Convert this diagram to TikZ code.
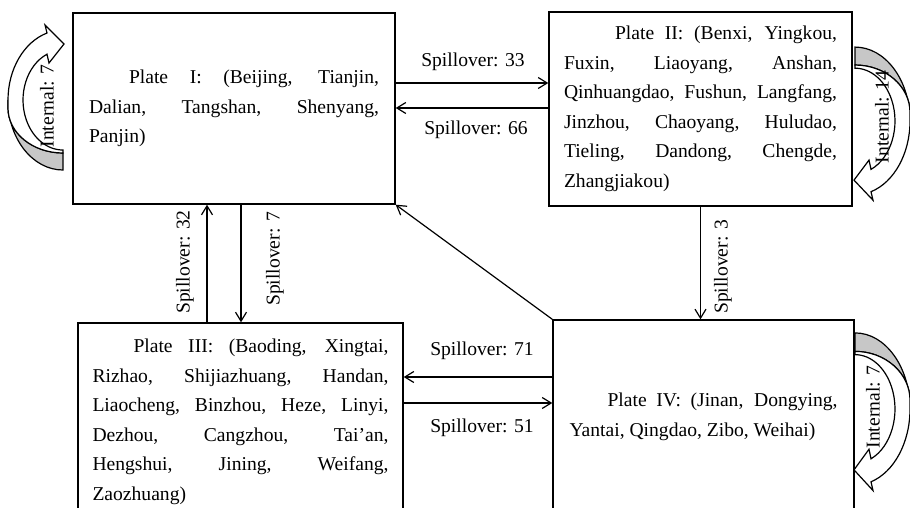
\documentclass[tikz,border=0pt]{standalone}
\usepackage{fontspec}
\setmainfont{Liberation Serif}
\usetikzlibrary{arrows.meta}
\tikzset{
  plate/.style={draw, line width=1.4pt, align=justify, font=\fontsize{19.6}{29.5}\selectfont, inner ysep=0pt},
  conn/.style={line width=1.2pt, -{Straight Barb[length=9pt,width=11pt,line width=1.2pt]}},
  lbl/.style={font=\fontsize{19.6}{24}\selectfont, inner sep=0pt},
  curvarr/.pic={
    \filldraw[fill=black!22, draw=black, line width=1.2pt]
      (0,70) arc[start angle=90,end angle=180,x radius=55,y radius=70]
      -- (-55,8) arc[start angle=180,end angle=90,x radius=55,y radius=45] -- cycle;
    \filldraw[fill=white, draw=black, line width=1.2pt]
      (0,53) arc[start angle=90,end angle=180,x radius=55,y radius=45]
      -- (-55,0) arc[start angle=180,end angle=253.1,x radius=55,y radius=70]
      -- (-18,-75) -- (1,-56) -- (-14,-37) -- (-16,-45.8)
      arc[start angle=246.4,end angle=90,x radius=40,y radius=50] -- cycle;
  }
}
\begin{document}
\begin{tikzpicture}[x=1pt,y=-1pt]
\useasboundingbox (0,0) rectangle (910,508);
\clip (0,0) rectangle (910,508);
\hyphenpenalty=10000 \exhyphenpenalty=10000

% curved internal arrows (drawn first)
\pic at (63,100) {curvarr};
\pic[rotate=180, yscale=1.056] at (855,121) {curvarr};
\pic[rotate=180, yscale=1.087] at (855,409) {curvarr};

% plates
\node[plate, text width=290pt, inner xsep=16pt, minimum height=191pt] (p1) at (234,108.5)
  {\hspace*{40pt}Plate I: (Beijing, Tianjin,\linebreak Dalian, Tangshan, Shenyang,\linebreak Panjin)};
\node[plate, text width=273pt, inner xsep=15pt, minimum height=194pt] (p2) at (700.5,109)
  {\hspace*{51pt}Plate II: (Benxi, Yingkou,\linebreak Fuxin, Liaoyang, Anshan,\linebreak Qinhuangdao, Fushun, Langfang,\linebreak Jinzhou, Chaoyang, Huludao,\linebreak Tieling, Dandong, Chengde,\linebreak Zhangjiakou)};
\node[plate, text width=296pt, inner xsep=14.5pt, minimum height=198pt] (p3) at (240.5,422)
  {\hspace*{41pt}Plate III: (Baoding, Xingtai,\linebreak Rizhao, Shijiazhuang, Handan,\linebreak Liaocheng, Binzhou, Heze, Linyi,\linebreak Dezhou, Cangzhou, Tai'an,\linebreak Hengshui, Jining, Weifang,\linebreak Zaozhuang)};
\node[plate, text width=268pt, inner xsep=16.5pt, minimum height=194pt] (p4) at (703.5,417)
  {\hspace*{38pt}Plate IV: (Jinan, Dongying,\linebreak Yantai, Qingdao, Zibo, Weihai)};

% internal labels
\node[lbl, rotate=90] (i1) at (47,106) {Internal: 7};
\node[lbl, rotate=90] (i2) at (882,117) {Internal: 14};
\node[lbl, rotate=90] (i4) at (873,407) {Internal: 7};

% helper coordinates
\coordinate (a33) at ([yshift=25.5pt]p1.east);
\coordinate (b66) at ([yshift=1pt]p2.west);
\coordinate (x32) at (207,0);
\coordinate (x7) at (241,0);
\coordinate (y71) at (0,377);
\coordinate (y51) at (0,403);

% connectors
\draw[conn] (a33) -- (a33 -| p2.west);
\draw[conn] (b66) -- (b66 -| p1.east);
\draw[conn] (x32 |- p3.north) -- (x32 |- p1.south);
\draw[conn] (x7 |- p1.south) -- (x7 |- p3.north);
\draw[conn] (p2.south) -- (p2.south |- p4.north);
\draw[conn] (p4.north west) -- (p1.south east);
\draw[conn] (y71 -| p4.west) -- (y71 -| p3.east);
\draw[conn] (y51 -| p3.east) -- (y51 -| p4.west);

% connector labels
\node[lbl] (l33) at (473,62) {Spillover: 33};
\node[lbl] (l66) at (476,130) {Spillover: 66};
\node[lbl, rotate=90] (l32) at (185,262) {Spillover: 32};
\node[lbl, rotate=90] (l7) at (275,259) {Spillover: 7};
\node[lbl, rotate=90] (l3) at (723,267) {Spillover: 3};
\node[lbl] (l71) at (482,351) {Spillover: 71};
\node[lbl] (l51) at (482,428) {Spillover: 51};
\end{tikzpicture}
\end{document}
